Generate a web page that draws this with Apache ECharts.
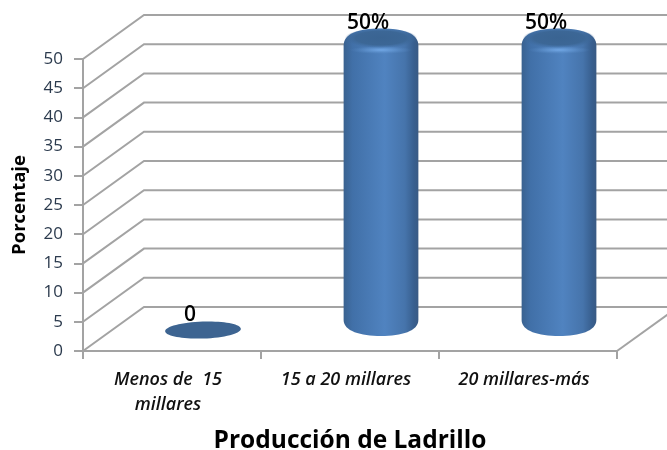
<!DOCTYPE html>
<html><head><meta charset="utf-8">
<style>html,body{margin:0;padding:0;background:#fff}#c{width:667px;height:450px}</style>
<script src="https://cdn.jsdelivr.net/npm/echarts@6/dist/echarts.min.js"></script>
</head><body><div id="c"></div>
<script>
const categories = ['Menos de  15\nmillares', '15 a 20 millares', '20 millares-más'];
const values = [0, 50, 50];
const valueLabels = ['0', '50%', '50%'];
const yTicks = [0, 5, 10, 15, 20, 25, 30, 35, 40, 45, 50];
const xTitle = 'Producción de Ladrillo';
const yTitle = 'Porcentaje';

const DEPTH_X = 61, DEPTH_Y = 44;
const GREY = '#a3a3a3';
const FONT = '"Open Sans", "Noto Sans", sans-serif';

function renderWall(params, api) {
  const cs = params.coordSys;
  const y = api.coord([0, api.value(1)])[1];
  const x0 = cs.x, x1 = cs.x + cs.width;
  const children = [{
    type: 'polyline',
    shape: { points: [[x0, y], [x0 + DEPTH_X, y - DEPTH_Y], [x1 + DEPTH_X, y - DEPTH_Y]] },
    style: { fill: 'none', stroke: GREY, lineWidth: 2 }
  }];
  if (api.value(1) === 0) {
    children.push({
      type: 'line',
      shape: { x1: x1, y1: y, x2: x1 + DEPTH_X, y2: y - DEPTH_Y },
      style: { stroke: GREY, lineWidth: 2 }
    });
  }
  return { type: 'group', children };
}

function softEllipse(cx, cy, rx, ry, fill) {
  return {
    type: 'circle', originX: cx, originY: cy, scaleY: ry / rx,
    shape: { cx: cx, cy: cy, r: rx }, style: { fill: fill }
  };
}

function renderCylinder(params, api) {
  const i = api.value(0), v = api.value(1);
  const p0 = api.coord([i, 0]), pv = api.coord([i, v]);
  const hw = api.size([1, 0])[0] * 0.21;
  const cx = p0[0] + DEPTH_X / 2 + 0.5, by = p0[1] - 21, ty = pv[1] - 21;
  const label = {
    type: 'text', z2: 10,
    style: {
      text: valueLabels[i], x: cx - 13, y: ty - 15, align: 'center', verticalAlign: 'middle',
      font: '600 21px ' + FONT, fill: '#000'
    }
  };
  if (v === 0) {
    return { type: 'group', children: [{
      type: 'ellipse', rotation: 0.035, originX: cx, originY: by,
      shape: { cx: cx, cy: by, rx: hw + 0.5, ry: 8.5 },
      style: { fill: '#3d6491' }
    }, label] };
  }
  const l = cx - hw, r = cx + hw, t = ty - 9.5, b = by + 6;
  const path = 'M' + l + ' ' + (t + 17) +
    'C' + l + ' ' + (t + 5) + ' ' + (cx - hw * 0.6) + ' ' + t + ' ' + cx + ' ' + t +
    'C' + (cx + hw * 0.6) + ' ' + t + ' ' + r + ' ' + (t + 5) + ' ' + r + ' ' + (t + 17) +
    'L' + r + ' ' + (b - 16) +
    'C' + r + ' ' + (b - 5) + ' ' + (cx + hw * 0.55) + ' ' + b + ' ' + cx + ' ' + b +
    'C' + (cx - hw * 0.55) + ' ' + b + ' ' + l + ' ' + (b - 5) + ' ' + l + ' ' + (b - 16) + 'Z';
  const body = new echarts.graphic.LinearGradient(0, 0, 1, 0, [
    { offset: 0, color: '#3a6290' }, { offset: 0.12, color: '#4170a8' },
    { offset: 0.55, color: '#5083c0' }, { offset: 0.82, color: '#4674ab' },
    { offset: 0.94, color: '#385f8f' }, { offset: 1, color: '#395a84' }
  ]);
  const glow = new echarts.graphic.RadialGradient(0.5, 0.5, 0.5, [
    { offset: 0, color: 'rgba(116,170,232,0.95)' }, { offset: 0.5, color: 'rgba(105,158,218,0.5)' },
    { offset: 1, color: 'rgba(90,140,200,0)' }
  ]);
  const cap = new echarts.graphic.RadialGradient(0.5, 0.5, 0.5, [
    { offset: 0, color: 'rgba(58,100,146,1)' }, { offset: 0.7, color: 'rgba(60,103,150,1)' },
    { offset: 1, color: 'rgba(62,106,155,0)' }
  ]);
  return { type: 'group', children: [
    { type: 'path', shape: { pathData: path }, style: { fill: body } },
    softEllipse(cx, ty + 12, hw - 6, 4, glow),
    softEllipse(cx, ty, hw - 1, 10, cap),
    label
  ] };
}

const chart = echarts.init(document.getElementById('c'), null, { renderer: 'canvas' });
chart.setOption({
  animation: false,
  backgroundColor: '#fff',
  grid: { left: 83, top: 59, width: 534, height: 292, outerBoundsMode: 'none' },
  xAxis: {
    type: 'category', data: categories,
    name: xTitle, nameLocation: 'middle', nameGap: 78,
    nameTextStyle: { fontFamily: FONT, fontWeight: 700, fontSize: 24.5, color: '#000' },
    axisLine: { lineStyle: { color: GREY, width: 2 } },
    axisTick: { show: true, length: 8, lineStyle: { color: GREY, width: 2 } },
    axisLabel: { margin: 16, padding: [0, 8, 0, 0], fontFamily: FONT, fontStyle: 'italic', fontWeight: 600, fontSize: 18, lineHeight: 25, color: '#111' }
  },
  yAxis: {
    type: 'value', min: 0, max: 50, interval: 5,
    name: yTitle, nameLocation: 'middle', nameGap: 54,
    nameTextStyle: { fontFamily: FONT, fontWeight: 700, fontSize: 18.5, color: '#000' },
    axisLine: { show: true, lineStyle: { color: GREY, width: 2 } },
    axisTick: { show: true, length: 9, lineStyle: { color: GREY, width: 2 } },
    splitLine: { show: false },
    axisLabel: { margin: 20, fontFamily: FONT, fontSize: 17, color: '#2b3a4d' }
  },
  series: [
    { type: 'custom', z: 1, renderItem: renderWall, silent: true,
      data: yTicks.map(t => [0, t]), encode: { x: 0, y: 1 } },
    { type: 'custom', z: 3, renderItem: renderCylinder, silent: true,
      data: values.map((v, i) => [i, v]), encode: { x: 0, y: 1 } }
  ]
});
</script></body></html>
